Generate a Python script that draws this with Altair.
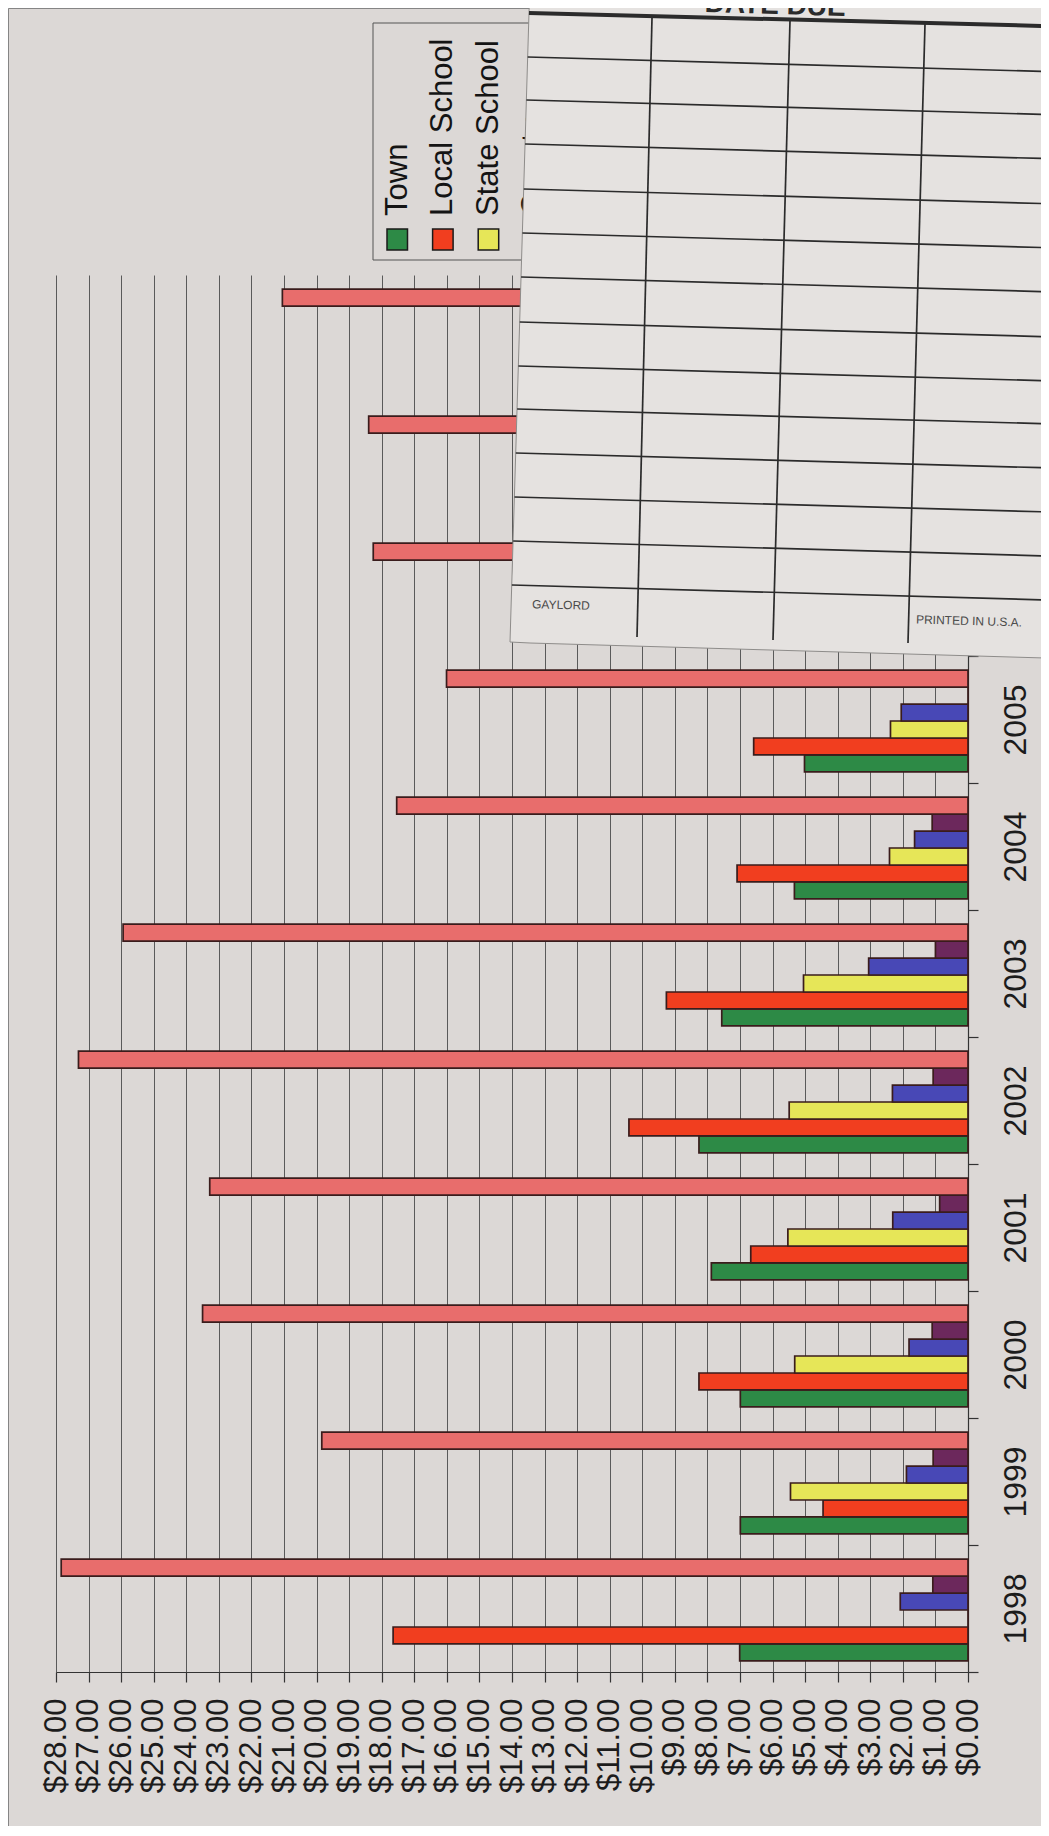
import altair as alt
import pandas as pd

# ---------------- data ----------------
years = ["1998", "1999", "2000", "2001", "2002", "2003",
         "2004", "2005", "2006", "2007", "2008"]
categories = ["Town", "Local School", "State School", "County", "Other", "Total"]

town         = [7.01, 6.99, 6.99, 7.88, 8.26, 7.56, 5.33, 5.02, None, None, None]
local_school = [17.65, 4.45, 8.26, 6.67, 10.41, 9.26, 7.09, 6.58, None, None, None]
state_school = [0.00, 5.45, 5.32, 5.53, 5.49, 5.05, 2.41, 2.38, None, None, None]
county       = [2.08, 1.89, 1.81, 2.31, 2.32, 3.05, 1.64, 2.05, None, None, None]
other        = [1.08, 1.07, 1.10, 0.87, 1.07, 1.00, 1.10, 0.00, None, None, None]
total        = [27.84, 19.84, 23.50, 23.28, 27.31, 25.94, 17.54, 16.01, 18.26, 18.40, 21.05]

tick_values = list(range(0, 29))

# ---------------- styles ----------------
colors = ["#2d8a46", "#f13e1f", "#e6e658", "#4848b6", "#6c285c", "#e86d6c"]
BG = "#dcd8d6"
CARD = "#e5e2e0"
FONT = "Liberation Sans"
INK = "#1c1c1c"

series = [town, local_school, state_school, county, other, total]
rows = []
for cat, vals in zip(categories, series):
    for yr, v in zip(years, vals):
        rows.append({"year": yr, "category": cat, "value": v})
df = pd.DataFrame(rows)

color_scale = alt.Scale(domain=categories, range=colors)

# plot-area origin on the page (used only for decorations)
OX, OY = 56, 275


def px(v):
    return v - OX


def py(v):
    return v - OY


# ---------------- main bars ----------------
bars = alt.Chart(df).mark_bar(stroke="#3a1c1c", strokeWidth=1.7).encode(
    x=alt.X(
        "value:Q",
        scale=alt.Scale(domain=[0, 28], reverse=True, nice=False),
        axis=alt.Axis(
            values=tick_values, format="$.2f", title=None,
            labelAngle=270, labelAlign="right", labelBaseline="middle",
            labelPadding=16, labelFontSize=31, labelFont=FONT, labelColor=INK,
            labelOverlap=False, labelFlush=False, labelBound=False,
            tickSize=10, tickColor="#333333", tickWidth=1.2,
            domainColor="#333333", domainWidth=1.2,
            grid=True, gridColor="#5a5a5a", gridWidth=1,
        ),
    ),
    y=alt.Y(
        "year:N",
        sort=years[::-1],
        scale=alt.Scale(paddingInner=0, paddingOuter=0),
        axis=alt.Axis(
            orient="right", title=None, tickBand="extent",
            labelAngle=270, labelAlign="center", labelBaseline="middle",
            labelPadding=37, labelFontSize=32, labelFont=FONT, labelColor=INK,
            labelOverlap=False,
            tickSize=10, tickColor="#333333", tickWidth=1.2,
            domainColor="#333333", domainWidth=1.2, grid=False,
        ),
    ),
    yOffset=alt.YOffset(
        "category:N",
        sort=categories[::-1],
        scale=alt.Scale(paddingInner=0, paddingOuter=0.74, align=0.56),
    ),
    color=alt.Color("category:N", scale=color_scale, legend=None),
)

# ---------------- outer frame ----------------
frame_df = pd.DataFrame({"x": [px(8.5)], "x2": [px(1045)], "y": [py(8.5)], "y2": [py(1829)]})
frame = alt.Chart(frame_df).mark_rect(fillOpacity=0, stroke="#858585", strokeWidth=1).encode(
    x=alt.X("x:Q", scale=None, axis=None), x2="x2:Q",
    y=alt.Y("y:Q", scale=None, axis=None), y2="y2:Q",
)

# ---------------- legend (drawn rotated, like the chart) ----------------
leg_step = 45.6
leg_rows = []
for i, cat in enumerate(categories):
    leg_rows.append({
        "category": cat,
        "sx": px(387 + leg_step * i), "sx2": px(407.5 + leg_step * i),
        "sy": py(229), "sy2": py(250),
        "tx": px(397.5 + leg_step * i), "ty": py(216),
    })
leg_df = pd.DataFrame(leg_rows)

legbox_df = pd.DataFrame({"x": [px(373)], "x2": [px(660)], "y": [py(23)], "y2": [py(260)]})
legbox = alt.Chart(legbox_df).mark_rect(fill=BG, stroke="#555555", strokeWidth=1).encode(
    x=alt.X("x:Q", scale=None, axis=None), x2="x2:Q",
    y=alt.Y("y:Q", scale=None, axis=None), y2="y2:Q",
)
leg_sq = alt.Chart(leg_df).mark_rect(stroke="#1a1a1a", strokeWidth=1.5).encode(
    x=alt.X("sx:Q", scale=None, axis=None), x2="sx2:Q",
    y=alt.Y("sy:Q", scale=None, axis=None), y2="sy2:Q",
    color=alt.Color("category:N", scale=color_scale, legend=None),
)
leg_txt = alt.Chart(leg_df).mark_text(
    angle=270, align="left", baseline="middle", fontSize=31, font=FONT, color="#141414"
).encode(
    x=alt.X("tx:Q", scale=None, axis=None),
    y=alt.Y("ty:Q", scale=None, axis=None),
    text="category:N",
)

# ---------------- the "DATE DUE" card lying over the chart ----------------
card_df = pd.DataFrame({
    "x": [px(510), px(530), px(1045)],
    "top": [py(642), py(-20), py(-6)],
    "bot": [py(642), py(643), py(658)],
})
card = alt.Chart(card_df).mark_area(fill=CARD, stroke="#8e8c8a", strokeWidth=1, opacity=1).encode(
    x=alt.X("x:Q", scale=None, axis=None),
    y=alt.Y("top:Q", scale=None, axis=None),
    y2="bot:Q",
)

row_lines = [57, 100, 144, 189, 233, 277, 322, 366, 409, 453, 497, 541, 585]
line_rows = []
for yl in row_lines:
    xl = 529 - 0.03 * (yl - 13)
    xr = 1045
    line_rows.append({"x": px(xl), "y": py(yl), "x2": px(xr), "y2": py(yl + 0.028 * (xr - xl))})
for (xt, yt, xb, yb) in [(652, 18, 637, 637), (790, 21, 773, 640), (925, 24, 908, 643)]:
    line_rows.append({"x": px(xt), "y": py(yt), "x2": px(xb), "y2": py(yb)})
lines_df = pd.DataFrame(line_rows)
card_lines = alt.Chart(lines_df).mark_rule(color="#2b2b2b", strokeWidth=1.7).encode(
    x=alt.X("x:Q", scale=None, axis=None), x2="x2:Q",
    y=alt.Y("y:Q", scale=None, axis=None), y2="y2:Q",
)
top_df = pd.DataFrame({"x": [px(529)], "y": [py(13)], "x2": [px(1045)], "y2": [py(26)]})
card_top = alt.Chart(top_df).mark_rule(color="#2b2b2b", strokeWidth=4).encode(
    x=alt.X("x:Q", scale=None, axis=None), x2="x2:Q",
    y=alt.Y("y:Q", scale=None, axis=None), y2="y2:Q",
)

# the card's heading runs off the top edge of the page, as in the scan
title_df = pd.DataFrame({"t": ["DATE DUE"], "x": [px(775)], "y": [py(14)]})
card_title = alt.Chart(title_df).mark_text(
    angle=1.6, align="center", baseline="alphabetic", fontSize=28, fontWeight="bold",
    font=FONT, color="#2b2b2b"
).encode(
    x=alt.X("x:Q", scale=None, axis=None), y=alt.Y("y:Q", scale=None, axis=None), text="t:N"
)
small_df = pd.DataFrame({
    "t": ["GAYLORD", "PRINTED IN U.S.A."],
    "x": [px(561), px(969)],
    "y": [py(605), py(621)],
})
card_small = alt.Chart(small_df).mark_text(
    angle=1.6, align="center", baseline="middle", fontSize=12, font=FONT, color="#4a4a4a"
).encode(
    x=alt.X("x:Q", scale=None, axis=None), y=alt.Y("y:Q", scale=None, axis=None), text="t:N"
)

chart = alt.layer(
    frame, legbox, leg_sq, leg_txt, bars, card, card_lines, card_top, card_title, card_small
).properties(
    width=912,
    height=1397,
    padding={"left": 48, "top": 267, "right": 73, "bottom": 154},
    autosize=alt.AutoSizeParams(type="none"),
    background=BG,
).configure_view(stroke=None)

chart.save("out.html", embed_options={"renderer": "svg", "actions": False})
